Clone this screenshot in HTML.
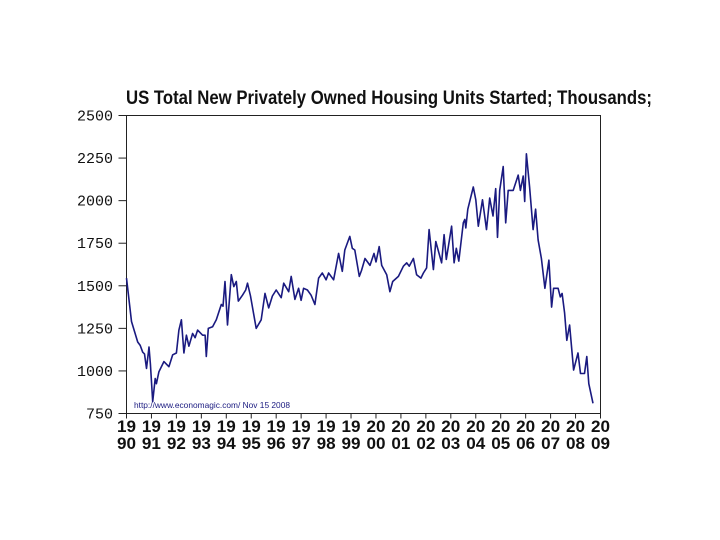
<!DOCTYPE html>
<html><head><meta charset="utf-8"><style>
body{margin:0;background:#fff;}
svg{display:block;}
</style></head><body>
<svg id="chart" width="720" height="540" xmlns="http://www.w3.org/2000/svg">
<text x="126" y="104" font-family="Liberation Sans, sans-serif" font-weight="bold" font-size="19" textLength="526" lengthAdjust="spacingAndGlyphs" fill="#111">US Total New Privately Owned Housing Units Started; Thousands;</text>
<rect x="126.5" y="115.5" width="474" height="298" fill="none" stroke="#222" stroke-width="1"/>
<g id="yaxis"></g>
<g id="xaxis"></g>
<path id="line" fill="none" stroke="#1a1a80" stroke-width="1.6" stroke-linejoin="round"/>
<text x="134" y="408" font-family="Liberation Sans, sans-serif" font-size="8.5" fill="#1a1a80" textLength="156" lengthAdjust="spacingAndGlyphs">http://www.economagic.com/   Nov 15 2008</text>
</svg>
<script>
const yTicks=[750,1000,1250,1500,1750,2000,2250,2500];
const xYears=[1990,1991,1992,1993,1994,1995,1996,1997,1998,1999,2000,2001,2002,2003,2004,2005,2006,2007,2008,2009];
const dates=[1990.0,1990.2,1990.45,1990.55,1990.65,1990.72,1990.8,1990.9,1990.96,1991.05,1991.15,1991.2,1991.3,1991.5,1991.7,1991.85,1992.0,1992.1,1992.2,1992.3,1992.4,1992.5,1992.65,1992.75,1992.85,1993.05,1993.15,1993.2,1993.28,1993.45,1993.6,1993.8,1993.87,1993.95,1994.05,1994.2,1994.3,1994.4,1994.48,1994.65,1994.78,1994.85,1994.97,1995.2,1995.4,1995.55,1995.7,1995.85,1996.0,1996.2,1996.3,1996.5,1996.6,1996.75,1996.9,1997.0,1997.1,1997.25,1997.4,1997.55,1997.7,1997.85,1998.0,1998.1,1998.3,1998.5,1998.65,1998.75,1998.95,1999.05,1999.15,1999.33,1999.42,1999.56,1999.76,1999.92,2000.0,2000.13,2000.23,2000.43,2000.56,2000.67,2000.9,2001.1,2001.23,2001.33,2001.5,2001.63,2001.8,2001.9,2002.03,2002.13,2002.3,2002.4,2002.63,2002.73,2002.82,2003.03,2003.13,2003.22,2003.32,2003.5,2003.56,2003.6,2003.68,2003.9,2004.0,2004.1,2004.27,2004.43,2004.56,2004.69,2004.8,2004.87,2004.96,2005.1,2005.2,2005.3,2005.5,2005.7,2005.79,2005.9,2005.96,2006.03,2006.16,2006.3,2006.4,2006.5,2006.63,2006.77,2006.93,2007.04,2007.12,2007.3,2007.39,2007.46,2007.56,2007.65,2007.76,2007.92,2008.1,2008.2,2008.36,2008.45,2008.53,2008.7];
const starts=[1545,1290,1170,1150,1110,1100,1015,1140,1040,820,955,925,995,1055,1025,1095,1105,1240,1300,1105,1210,1145,1220,1195,1240,1210,1210,1085,1250,1260,1300,1390,1380,1525,1270,1565,1495,1525,1410,1445,1475,1515,1440,1250,1300,1455,1370,1440,1475,1430,1515,1465,1555,1420,1485,1415,1485,1475,1445,1390,1545,1575,1535,1575,1535,1690,1585,1710,1790,1720,1710,1555,1590,1660,1620,1690,1640,1730,1620,1565,1465,1525,1555,1615,1635,1615,1660,1565,1545,1575,1605,1830,1595,1760,1635,1800,1655,1850,1635,1720,1645,1870,1890,1840,1950,2080,2005,1850,2005,1830,2015,1910,2070,1785,2060,2200,1870,2060,2060,2150,2060,2145,1995,2275,2080,1830,1950,1770,1660,1485,1650,1375,1485,1485,1435,1455,1340,1180,1270,1005,1105,985,985,1085,925,810];
const NS='http://www.w3.org/2000/svg';
const L=126.5,R=600.5,T=115.5,B=413.5;
function xs(t){return L+(t-1990)/(2009-1990)*(R-L);}
function ys(v){return B-(v-750)/(2500-750)*(B-T);}
const ya=document.getElementById('yaxis');
yTicks.forEach(v=>{
 const ln=document.createElementNS(NS,'line');
 ln.setAttribute('x1',L-8);ln.setAttribute('x2',L);ln.setAttribute('y1',ys(v));ln.setAttribute('y2',ys(v));ln.setAttribute('stroke','#222');
 
 
 ya.appendChild(ln);
 const tx=document.createElementNS(NS,'text');
 tx.setAttribute('x',113);tx.setAttribute('y',ys(v)+5);tx.setAttribute('text-anchor','end');
 tx.setAttribute('font-family','Liberation Mono, monospace');tx.setAttribute('font-size','15');tx.setAttribute('fill','#111');
 tx.textContent=v;
 
 
 ya.appendChild(tx);
});
const xa=document.getElementById('xaxis');
xYears.forEach(y=>{
 const x=xs(y);
 const ln=document.createElementNS(NS,'line');
 ln.setAttribute('x1',x);ln.setAttribute('x2',x);ln.setAttribute('y1',B);ln.setAttribute('y2',B+5);ln.setAttribute('stroke','#222');
 
 
 xa.appendChild(ln);
 const s=String(y);
 [[s.slice(0,2),432],[s.slice(2),449]].forEach(p=>{
  const tx=document.createElementNS(NS,'text');
  tx.setAttribute('x',x);tx.setAttribute('y',p[1]);tx.setAttribute('text-anchor','middle');
  tx.setAttribute('font-family','Liberation Sans, sans-serif');tx.setAttribute('font-weight','bold');tx.setAttribute('font-size','17');
  tx.setAttribute('textLength','19');tx.setAttribute('lengthAdjust','spacingAndGlyphs');tx.setAttribute('fill','#111');
  tx.textContent=p[0];
  
  
  xa.appendChild(tx);
 });
});
let d='';
dates.forEach((t,i)=>{d+=(i?'L':'M')+xs(t).toFixed(1)+','+ys(starts[i]).toFixed(1);});
document.getElementById('line').setAttribute('d',d);
</script>
</body></html>
